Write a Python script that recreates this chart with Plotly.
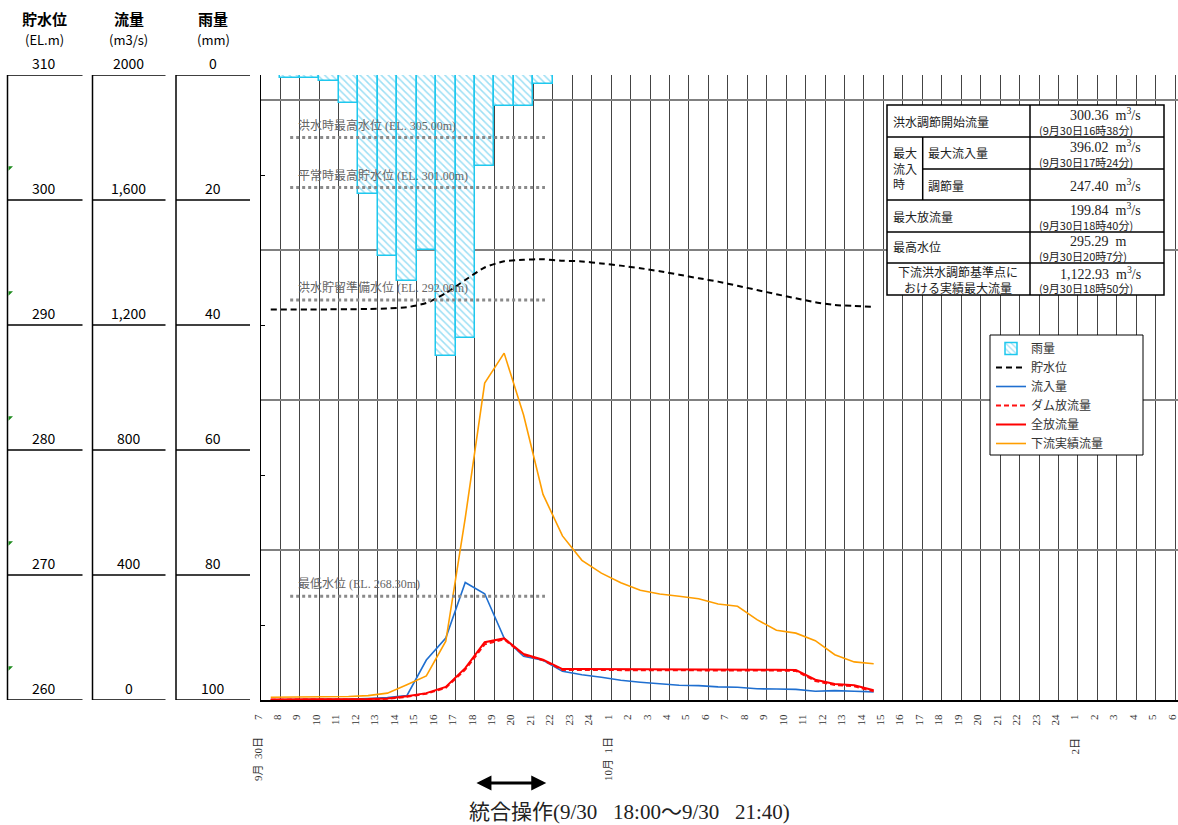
import plotly.graph_objects as go

W, H = 1178, 825
SERIF = "Liberation Serif, Noto Sans CJK JP, serif"
SANS = "Noto Sans CJK JP, Liberation Sans, sans-serif"

# ---------------- data ----------------
# hourly grid labels from 9/30 7:00 to 10/2 6:00
hour_labels = ["7", "8", "9", "10", "11", "12", "13", "14", "15", "16", "17", "18",
               "19", "20", "21", "22", "23", "24",
               "1", "2", "3", "4", "5", "6", "7", "8", "9", "10", "11", "12",
               "13", "14", "15", "16", "17", "18", "19", "20", "21", "22", "23", "24",
               "1", "2", "3", "4", "5", "6"]
day_labels = ["9月\u00a0\u00a030日", "10月\u00a0\u00a01日", "2日"]
day_label_index = [0, 18, 42]

# hourly values, one per hour cell starting 9/30 7:00
rain_mm = [0, 0.5, 0.5, 1.0, 4.5, 19.0, 29.0, 33.0, 28.0, 45.0, 42.0, 14.5, 5.0, 5.0,
           1.5, 0, 0, 0, 0, 0, 0, 0, 0, 0, 0, 0, 0, 0, 0, 0, 0, 0]
water_level = [291.24, 291.24, 291.24, 291.25, 291.26, 291.28, 291.32, 291.42, 291.76,
               292.55, 293.60, 294.60, 295.10, 295.22, 295.26, 295.14, 295.09, 294.92,
               294.75, 294.54, 294.30, 294.02, 293.74, 293.47, 293.14, 292.80, 292.46,
               292.14, 291.82, 291.60, 291.52, 291.44]
inflow = [1, 1, 1, 2, 3, 5, 8, 14, 128, 198, 376, 340, 198, 140, 127, 92, 81, 73, 63,
          57, 51, 47, 46, 42, 41, 36, 35, 34, 28, 30, 28, 26]
dam_outflow = [1, 1, 1, 1, 1, 2, 4, 10, 20, 39, 97, 178, 194, 145, 127, 96, 96, 96, 96,
               95, 95, 95, 94, 94, 94, 94, 94, 93, 61, 48, 44, 28]
total_outflow = [2, 2, 2, 2, 2, 3, 5, 12, 22, 42, 102, 185, 197, 147, 129, 99, 99, 99,
                 99, 98, 98, 98, 97, 97, 97, 97, 97, 96, 65, 51, 47, 31]
downstream_flow = [9, 9, 9, 9, 11, 14, 22, 49, 77, 188, 582, 1014, 1110, 912, 658, 525,
                   447, 406, 375, 351, 339, 332, 324, 307, 300, 257, 223, 214, 190, 145,
                   122, 116]

level_ticks = [310, 300, 290, 280, 270, 260]
level_text = ["310", "300", "290", "280", "270", "260"]
flow_ticks = [2000, 1600, 1200, 800, 400, 0]
flow_text = ["2000", "1,600", "1,200", "800", "400", "0"]
rain_ticks = [0, 20, 40, 60, 80, 100]
rain_text = ["0", "20", "40", "60", "80", "100"]

ref_names = ["洪水時最高水位", "平常時最高貯水位", "洪水貯留準備水位", "最低水位"]
ref_levels = [305.00, 301.00, 292.00, 268.30]

# integrated operation period (hours after 9/30 7:00)
op_start_h = 11.0
op_end_h = 14 + 40 / 60
op_text = "統合操作(9/30\u00a0\u00a0\u00a018:00～9/30\u00a0\u00a0\u00a021:40)"

# ---------------- layout geometry (px) ----------------
X_LEFT = 261
Y_TOP, Y_BOT = 75, 700
X_RANGE = [0, (W - X_LEFT) / 19.45]
REF_X0, REF_X1, REF_LABEL_X = 1.5, 14.6, 1.8


def px(x):
    return x / W


def py(y):
    return 1 - y / H


cells = [k + 0.5 for k in range(len(rain_mm))]

fig = go.Figure()
fig.add_trace(go.Bar(
    x=cells, y=[v if v > 0 else None for v in rain_mm], width=1, name="雨量", yaxis="y",
    marker=dict(color="white", line=dict(color="#1ec8ee", width=1.5),
                pattern=dict(shape="\\", fgcolor="#3cc0ea", bgcolor="white", size=5, solidity=0.3))))
fig.add_trace(go.Scatter(x=cells, y=water_level, name="貯水位", yaxis="y3", mode="lines",
                         line=dict(color="black", width=2, dash="6px,4px", shape="spline", smoothing=0.6)))
fig.add_trace(go.Scatter(x=cells, y=inflow, name="流入量", yaxis="y2", mode="lines",
                         line=dict(color="#1f6fd0", width=1.6)))
fig.add_trace(go.Scatter(x=cells, y=dam_outflow, name="ダム放流量", yaxis="y2", mode="lines",
                         line=dict(color="#ff1010", width=2, dash="5px,3px")))
fig.add_trace(go.Scatter(x=cells, y=total_outflow, name="全放流量", yaxis="y2", mode="lines",
                         line=dict(color="#ff0000", width=2)))
fig.add_trace(go.Scatter(x=cells, y=downstream_flow, name="下流実績流量", yaxis="y2", mode="lines",
                         line=dict(color="#ff9e00", width=1.6)))

shapes = []
annotations = []

# reference water levels
for name, lv in zip(ref_names, ref_levels):
    shapes.append(dict(type="line", xref="x", yref="y3", x0=REF_X0, x1=REF_X1, y0=lv, y1=lv,
                       line=dict(color="#8a8a8a", width=3, dash="dot"), layer="above"))
    annotations.append(dict(x=REF_LABEL_X, y=lv, xref="x", yref="y3", xanchor="left", yanchor="bottom",
                            yshift=3, showarrow=False, text=f"{name} (EL. {lv:.2f}m)",
                            font=dict(family=SERIF, size=12, color="#666")))

# left scale panels
panels = [
    (7.5, 82.5, 44, level_ticks, level_text, "y3", "貯水位", "(EL.m)"),
    (92.5, 165.5, 128.5, flow_ticks, flow_text, "y2", "流量", "(m3/s)"),
    (176, 250, 213, rain_ticks, rain_text, "y", "雨量", "(mm)"),
]
for xl, xr, xc, ticks, texts, yax, head, unit in panels:
    shapes.append(dict(type="line", xref="paper", yref=yax, x0=px(xl), x1=px(xl),
                       y0=ticks[0], y1=ticks[-1], line=dict(color="black", width=1.5)))
    for tv, tt in zip(ticks, texts):
        shapes.append(dict(type="line", xref="paper", yref=yax, x0=px(xl), x1=px(xr),
                           y0=tv, y1=tv, line=dict(color="black", width=1.5)))
        annotations.append(dict(x=px(xc), y=tv, xref="paper", yref=yax, xanchor="center",
                                yanchor="bottom", yshift=0, showarrow=False, text=tt,
                                font=dict(family=SANS, size=14, color="black")))
    annotations.append(dict(x=px(xc), y=py(18), xref="paper", yref="paper", xanchor="center",
                            yanchor="middle", showarrow=False,
                            text=f"<b>{head}</b>", font=dict(family=SANS, size=15, color="black")))
    annotations.append(dict(x=px(xc), y=py(40), xref="paper", yref="paper", xanchor="center",
                            yanchor="middle", showarrow=False,
                            text=unit, font=dict(family=SANS, size=13, color="black")))

# small green cell-corner markers on the level panel (spreadsheet indicators)
for tv in level_ticks[:-1]:
    y0 = tv - 7.3
    shapes.append(dict(type="path", xref="paper", yref="y3",
                       path=f"M {px(8.5)},{y0} L {px(13)},{y0} L {px(8.5)},{y0 - 0.35} Z",
                       fillcolor="#1a8a1a", line=dict(width=0)))

# date labels under the hour ticks
for txt, idx in zip(day_labels, day_label_index):
    annotations.append(dict(x=idx, y=py(735), xref="x", yref="paper", xanchor="center",
                            yanchor="top", xshift=-3, textangle=-90, showarrow=False, text=txt,
                            font=dict(family=SERIF, size=11, color="#333")))

# integrated operation arrow + text
annotations.append(dict(x=op_end_h, y=py(783), xref="x", yref="paper", ax=op_start_h, ay=0,
                        axref="x", ayref="pixel", showarrow=True, arrowhead=2,
                        arrowside="end+start", arrowwidth=3, arrowsize=1.0, arrowcolor="black",
                        text=""))
annotations.append(dict(x=px(629), y=py(812), xref="paper", yref="paper", xanchor="center",
                        yanchor="middle", showarrow=False,
                        text=op_text, font=dict(family=SERIF, size=21, color="#222")))

# summary table
TL, TR, TM, TS = 887, 1164, 1030, 922.7
rows_y = [105, 137, 169, 200, 232, 263, 295]
shapes.append(dict(type="rect", xref="paper", yref="paper", x0=px(TL), x1=px(TR), y0=py(rows_y[0]),
                   y1=py(rows_y[-1]), fillcolor="white", line=dict(color="black", width=1.5), layer="above"))
shapes.append(dict(type="line", xref="paper", yref="paper", x0=px(TM), x1=px(TM), y0=py(rows_y[0]),
                   y1=py(rows_y[-1]), line=dict(color="black", width=1.5), layer="above"))
for yy in [rows_y[1], rows_y[3], rows_y[4], rows_y[5]]:
    shapes.append(dict(type="line", xref="paper", yref="paper", x0=px(TL), x1=px(TR), y0=py(yy),
                       y1=py(yy), line=dict(color="black", width=1.5), layer="above"))
shapes.append(dict(type="line", xref="paper", yref="paper", x0=px(TS), x1=px(TR), y0=py(rows_y[2]),
                   y1=py(rows_y[2]), line=dict(color="black", width=1.5), layer="above"))
shapes.append(dict(type="line", xref="paper", yref="paper", x0=px(TS), x1=px(TS), y0=py(rows_y[1]),
                   y1=py(rows_y[3]), line=dict(color="black", width=1.5), layer="above"))

M3S = "\u00a0\u00a0m<sup>3</sup>/s"
table_items = [
    ("洪水調節開始流量", 891, 121, "left", SANS, 12),
    ("300.36" + M3S, 1068, 114, "left", SERIF, 14),
    ("(9月30日16時38分)", 1037, 130, "left", SANS, 11),
    ("最大<br>流入<br>時", 891, 168, "left", SANS, 12),
    ("最大流入量", 926, 153, "left", SANS, 12),
    ("396.02" + M3S, 1068, 146, "left", SERIF, 14),
    ("(9月30日17時24分)", 1037, 161.5, "left", SANS, 11),
    ("調節量", 926, 185, "left", SANS, 12),
    ("247.40" + M3S, 1068, 185, "left", SERIF, 14),
    ("最大放流量", 891, 216, "left", SANS, 12),
    ("199.84" + M3S, 1068, 209.5, "left", SERIF, 14),
    ("(9月30日18時40分)", 1037, 225, "left", SANS, 11),
    ("最高水位", 891, 247, "left", SANS, 12),
    ("295.29\u00a0\u00a0m", 1068, 241, "left", SERIF, 14),
    ("(9月30日20時7分)", 1037, 256, "left", SANS, 11),
    ("下流洪水調節基準点に<br>おける実績最大流量", 958, 280, "center", SANS, 12),
    ("1,122.93" + M3S, 1058, 272.5, "left", SERIF, 14),
    ("(9月30日18時50分)", 1037, 288, "left", SANS, 11),
]
for txt, x, y, xa, fam, size in table_items:
    annotations.append(dict(x=px(x), y=py(y), xref="paper", yref="paper", xanchor=xa, yanchor="middle",
                            showarrow=False, text=txt, align=xa,
                            font=dict(family=fam, size=size, color="#222")))

# legend frame
shapes.append(dict(type="rect", xref="paper", yref="paper", x0=px(990), x1=px(1143), y0=py(335),
                   y1=py(455), fillcolor="white", line=dict(color="black", width=1), layer="above"))

fig.update_layout(
    width=W, height=H, margin=dict(l=0, r=0, t=0, b=0, autoexpand=False),
    paper_bgcolor="white", plot_bgcolor="white",
    bargap=0, shapes=shapes, annotations=annotations,
    showlegend=True,
    legend=dict(x=px(991), y=py(334), xanchor="left", yanchor="top", bgcolor="rgba(0,0,0,0)",
                borderwidth=0, font=dict(family=SANS, size=12, color="#333"), traceorder="normal"),
    xaxis=dict(domain=[px(X_LEFT), 1], range=X_RANGE, tickmode="array",
               tickvals=list(range(len(hour_labels))), ticktext=hour_labels, tickangle=-90,
               showgrid=True, gridcolor="#444", gridwidth=1, showline=True, linecolor="black",
               linewidth=2, ticks="", ticklabelstandoff=8, ticklabelshift=-3, zeroline=False,
               automargin=False, ticklabeloverflow="allow",
               tickfont=dict(family=SERIF, size=11, color="#333")),
    yaxis=dict(domain=[py(Y_BOT), py(Y_TOP)], range=[100, 0], visible=False),
    yaxis2=dict(overlaying="y", anchor="x", side="left", range=[0, 2000], tick0=0, dtick=480,
                showgrid=True, gridcolor="#808080", gridwidth=1.5, showline=True, linecolor="black",
                linewidth=1, showticklabels=False, ticks="", zeroline=False, automargin=False,
                minor=dict(tick0=0, dtick=240, ticks="inside", ticklen=4, tickcolor="black",
                           showgrid=False)),
    yaxis3=dict(overlaying="y", anchor="x", range=[260, 310], visible=False),
)

fig.write_html("out.html", config={"displayModeBar": False},
               post_script="document.body.style.margin='0';document.body.style.overflow='hidden';")
